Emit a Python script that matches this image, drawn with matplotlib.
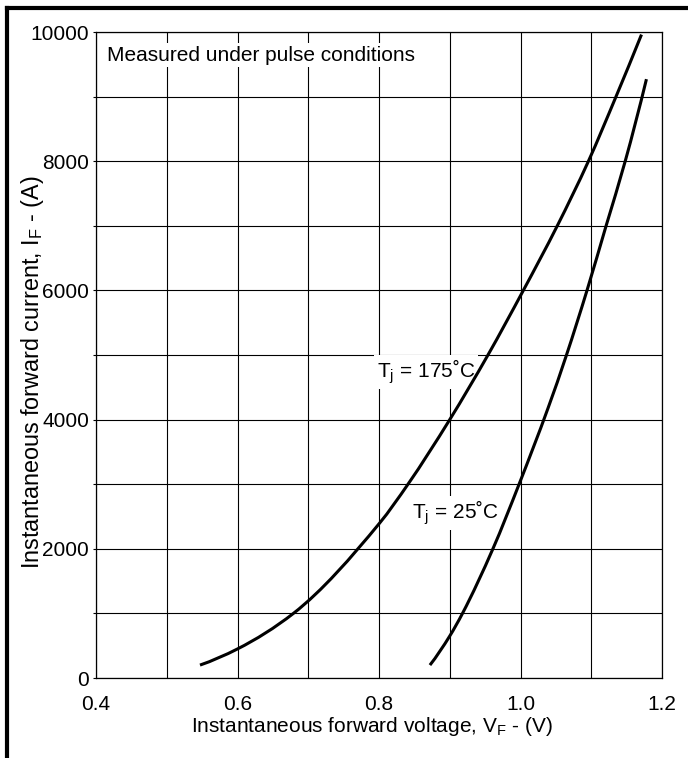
import matplotlib
matplotlib.use("Agg")
import matplotlib.pyplot as plt
import numpy as np
from matplotlib.lines import Line2D
from matplotlib.path import Path
from matplotlib.patches import PathPatch
from matplotlib.ticker import MultipleLocator

plt.rcParams['font.family'] = ['Liberation Sans', 'DejaVu Sans']
plt.rcParams['mathtext.fontset'] = 'custom'
plt.rcParams['mathtext.rm'] = 'Liberation Sans'
plt.rcParams['mathtext.it'] = 'Liberation Sans'

# Data
vf_175 = [0.547, 0.600, 0.679, 0.801, 0.841, 0.900, 0.954, 1.004, 1.052, 1.096, 1.135, 1.171]
if_175 = [200, 450, 1000, 2400, 3000, 4000, 5000, 6000, 7000, 8000, 9000, 9960]

vf_25 = [0.872, 0.900, 0.918, 0.961, 0.998, 1.039, 1.065, 1.094, 1.121, 1.148, 1.178]
if_25 = [200, 650, 1000, 2000, 3000, 4180, 5000, 6000, 7000, 8000, 9270]

x_ticks = [0.4, 0.6, 0.8, 1.0, 1.2]
x_tick_labels = ['0.4', '0.6', '0.8', '1.0', '1.2']
y_ticks = [0, 2000, 4000, 6000, 8000, 10000]
y_tick_labels = ['0', '2000', '4000', '6000', '8000', '10000']

FS = 15
FS_YLABEL = 16.8

fig = plt.figure(figsize=(6.88, 7.58), dpi=100)
ax = fig.add_axes([96/688, 1-678/758, 566/688, 646/758])


def smooth_curve(ax, xs, ys, **kw):
    """Draw a smooth monotone curve (PCHIP tangents) through the data points as cubic Beziers."""
    x = np.asarray(xs, float)
    y = np.asarray(ys, float)
    h = np.diff(x)
    d = np.diff(y) / h
    n = len(x)
    m = np.zeros(n)
    for k in range(1, n - 1):
        if d[k - 1] * d[k] <= 0:
            m[k] = 0.0
        else:
            w1 = 2 * h[k] + h[k - 1]
            w2 = h[k] + 2 * h[k - 1]
            m[k] = (w1 + w2) / (w1 / d[k - 1] + w2 / d[k])
    m[0] = ((2 * h[0] + h[1]) * d[0] - h[0] * d[1]) / (h[0] + h[1])
    if m[0] * d[0] <= 0:
        m[0] = 0.0
    m[-1] = ((2 * h[-1] + h[-2]) * d[-1] - h[-1] * d[-2]) / (h[-1] + h[-2])
    if m[-1] * d[-1] <= 0:
        m[-1] = 0.0
    verts = [(x[0], y[0])]
    codes = [Path.MOVETO]
    for k in range(n - 1):
        verts += [(x[k] + h[k] / 3, y[k] + m[k] * h[k] / 3),
                  (x[k + 1] - h[k] / 3, y[k + 1] - m[k + 1] * h[k] / 3),
                  (x[k + 1], y[k + 1])]
        codes += [Path.CURVE4] * 3
    ax.add_patch(PathPatch(Path(verts, codes), facecolor='none', **kw))


ax.set_xlim(0.4, 1.2)
ax.set_ylim(0, 10000)

smooth_curve(ax, vf_175, if_175, edgecolor='black', lw=2.2, zorder=4, capstyle='butt')
smooth_curve(ax, vf_25, if_25, edgecolor='black', lw=2.2, zorder=4, capstyle='butt')

ax.set_xticks(x_ticks)
ax.set_xticklabels(x_tick_labels)
ax.set_yticks(y_ticks)
ax.set_yticklabels(y_tick_labels)
ax.xaxis.set_minor_locator(MultipleLocator(0.1))
ax.yaxis.set_minor_locator(MultipleLocator(1000))
ax.grid(True, which='both', color='black', lw=0.8)
ax.set_axisbelow(True)
ax.tick_params(axis='x', which='both', length=0, pad=12, labelsize=FS)
ax.tick_params(axis='y', which='both', length=2.5, width=0.8, pad=2.5, labelsize=FS, direction='out')
for s in ax.spines.values():
    s.set_linewidth(0.9)
    s.set_color('black')

ax.set_xlabel(r'Instantaneous forward voltage, V$_\mathregular{F}$ - (V)', fontsize=FS)
ax.xaxis.set_label_coords(0.487, -0.083)
ax.xaxis.label.set_va('baseline')
ax.set_ylabel(r'Instantaneous forward current, I$_\mathregular{F}$ - (A)', fontsize=FS_YLABEL)
ax.yaxis.set_label_coords(-0.113, 0.474)
ax.yaxis.label.set_va('center')

box = dict(facecolor='white', edgecolor='none', pad=2)
ax.text(0.019, 0.964, 'Measured under pulse conditions', transform=ax.transAxes,
        fontsize=FS, ha='left', va='center', bbox=box, zorder=3)
ax.text(0.797, 4737, r'T$_\mathregular{j}$ = 175˚C', fontsize=FS, ha='left', va='center',
        bbox=box, zorder=3)
ax.text(0.847, 2554, r'T$_\mathregular{j}$ = 25˚C', fontsize=FS, ha='left', va='center',
        bbox=box, zorder=3)

# figure frame (left and top visible)
fig.add_artist(Line2D([7/688, 7/688], [0, 1-8/758], transform=fig.transFigure, color='black', lw=3))
fig.add_artist(Line2D([7/688, 1], [1-8/758, 1-8/758], transform=fig.transFigure, color='black', lw=3))

fig.savefig('out.png', dpi=100)
